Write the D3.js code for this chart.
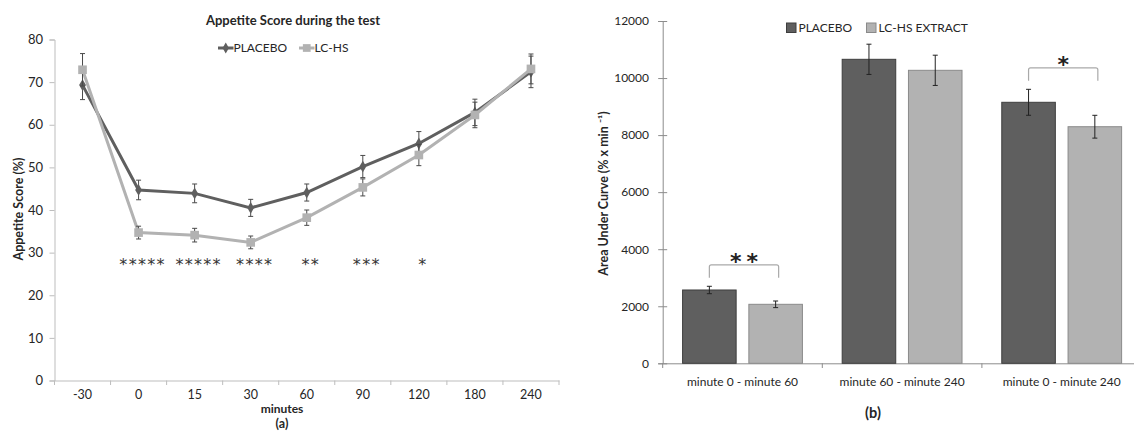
<!DOCTYPE html>
<html><head><meta charset="utf-8">
<script src="https://cdn.jsdelivr.net/npm/d3@7"></script>
<style>
body{margin:0;background:#fff;}
svg{display:block;font-family:Lato,"Open Sans",sans-serif;}
</style></head>
<body><svg id="c" width="1134" height="431"></svg>
<script>
// ---- Data: panel (a) ----
const minutes = ["-30","0","15","30","60","90","120","180","240"];
const placeboScore = [69.3, 44.7, 43.9, 40.5, 44.1, 50.2, 55.6, 62.9, 72.4];
const placeboErr   = [3.4, 2.3, 2.2, 2.0, 2.0, 2.6, 2.8, 3.1, 3.7];
const lchsScore    = [72.9, 34.7, 34.1, 32.4, 38.2, 45.3, 52.9, 62.3, 73.1];
const lchsErr      = [3.8, 1.5, 1.6, 1.5, 1.8, 2.0, 2.5, 3.0, 3.5];
const sigStars     = ["*****","*****","****","**","***","*"];
const sigAt        = ["0","15","30","60","90","120"];
const yTicksA      = [0,10,20,30,40,50,60,70,80];

// ---- Data: panel (b) ----
const periods   = ["minute 0 - minute 60","minute 60 - minute 240","minute 0 - minute 240"];
const groups    = ["PLACEBO","LC-HS EXTRACT"];
const aucPlacebo = [2570, 10657, 9150];
const aucPlaceboErr = [130, 530, 455];
const aucLchs    = [2068, 10271, 8294];
const aucLchsErr = [116, 530, 400];
const bracketLabels = ["**", "", "*"];
const yTicksB   = [0,2000,4000,6000,8000,10000,12000];

const DARK = "#5f5f5f", LIGHT = "#b2b2b2", TXT = "#262626";
const AXIS_A = "#bdbdbd", AXIS_B = "#8c8c8c";
const svg = d3.select("#c");

// ================= Panel (a) =================
const xA = d3.scaleBand().domain(minutes).range([54.5, 559]).padding(0);
const yA = d3.scaleLinear().domain([0,80]).range([380.5, 39.5]);
const gA = svg.append("g");

const yAxA = gA.append("g").attr("transform","translate(54.5,0)")
  .call(d3.axisLeft(yA).tickValues(yTicksA).tickSize(5).tickPadding(6.5));
yAxA.selectAll("path,line").attr("stroke",AXIS_A);
yAxA.selectAll("text").attr("font-size",13).attr("fill",TXT).attr("font-family","Lato,sans-serif");

const xAxA = gA.append("g").attr("transform","translate(0,380.5)")
  .call(d3.axisBottom(xA).tickSize(0).tickPadding(9.5));
xAxA.select("path").attr("stroke",AXIS_A);
xAxA.selectAll("text").attr("font-size",12.5).attr("fill",TXT).attr("font-family","Lato,sans-serif");
const bounds = minutes.map(m=>xA(m)).concat([xA.range()[1]]);
gA.selectAll(".bt").data(bounds).join("line")
  .attr("x1",d=>d).attr("x2",d=>d).attr("y1",380.5).attr("y2",385).attr("stroke",AXIS_A);

const cx = m => xA(m) + xA.bandwidth()/2;

function drawSeries(vals, errs, color, marker){
  const pts = minutes.map((m,i)=>({m, v:vals[i], e:errs[i]}));
  gA.append("path").datum(pts)
    .attr("fill","none").attr("stroke",color).attr("stroke-width",3)
    .attr("d", d3.line().x(d=>cx(d.m)).y(d=>yA(d.v)));
  const eb = gA.append("g").attr("stroke","#4a4a4a").attr("stroke-width",1);
  pts.forEach(d=>{
    const x=cx(d.m);
    eb.append("line").attr("x1",x).attr("x2",x).attr("y1",yA(d.v+d.e)).attr("y2",yA(d.v-d.e));
    eb.append("line").attr("x1",x-2.5).attr("x2",x+2.5).attr("y1",yA(d.v+d.e)).attr("y2",yA(d.v+d.e));
    eb.append("line").attr("x1",x-2.5).attr("x2",x+2.5).attr("y1",yA(d.v-d.e)).attr("y2",yA(d.v-d.e));
  });
  gA.selectAll(null).data(pts).join("path")
    .attr("transform",d=>`translate(${cx(d.m)},${yA(d.v)})`)
    .attr("d", d3.symbol().type(marker).size(marker===d3.symbolSquare?75:40)())
    .attr("fill",color);
}
drawSeries(placeboScore, placeboErr, DARK, d3.symbolDiamond);
drawSeries(lchsScore, lchsErr, LIGHT, d3.symbolSquare);

// significance stars
gA.selectAll(".st").data(sigAt.map((m,i)=>({m,s:sigStars[i]}))).join("text")
  .attr("x",d=>cx(d.m)+4).attr("y",270)
  .attr("text-anchor","middle").attr("font-size",16).attr("fill","#333")
  .attr("font-family","'DejaVu Sans',sans-serif")
  .attr("letter-spacing",1.3).text(d=>d.s);

// title & legend
gA.append("text").attr("x",293).attr("y",24.5).attr("text-anchor","middle")
  .attr("font-size",13).attr("font-weight","bold").attr("fill",TXT).text("Appetite Score during the test");
const legA = [{n:"PLACEBO",c:DARK,t:d3.symbolDiamond,x:218},{n:"LC-HS",c:LIGHT,t:d3.symbolSquare,x:299}];
const legY = 48;
legA.forEach(l=>{
  gA.append("line").attr("x1",l.x).attr("x2",l.x+15.5).attr("y1",legY).attr("y2",legY).attr("stroke",l.c).attr("stroke-width",3);
  gA.append("path").attr("transform",`translate(${l.x+7.75},${legY})`)
    .attr("d",d3.symbol().type(l.t).size(l.t===d3.symbolSquare?60:35)()).attr("fill",l.c);
  gA.append("text").attr("x",l.x+15.5).attr("y",legY+4.3).attr("font-size",12).attr("fill",TXT).text(l.n);
});
gA.append("text").attr("transform","translate(22.5,209) rotate(-90)").attr("text-anchor","middle")
  .attr("font-size",12.5).attr("font-weight","bold").attr("fill",TXT).text("Appetite Score (%)");
gA.append("text").attr("x",282).attr("y",413.3).attr("text-anchor","middle")
  .attr("font-size",12).attr("font-weight","bold").attr("fill",TXT).text("minutes");
gA.append("text").attr("x",282).attr("y",428.3).attr("text-anchor","middle")
  .attr("font-size",12.5).attr("font-weight","bold").attr("fill",TXT).text("(a)");

// ================= Panel (b) =================
const xB = d3.scaleBand().domain(periods).range([662.7, 1141.5]).padding(0);
const x1 = d3.scaleBand().domain(groups).range([0, xB.bandwidth()]).paddingInner(0.192).paddingOuter(0.3);
const yB = d3.scaleLinear().domain([0,12000]).range([363.3, 21]);
const gB = svg.append("g");

const yAxB = gB.append("g").attr("transform","translate(662.7,0)")
  .call(d3.axisLeft(yB).tickValues(yTicksB).tickSizeOuter(0).tickSize(4.5).tickPadding(9.2).tickFormat(d3.format("d")));
yAxB.selectAll("path").attr("stroke",AXIS_B);
yAxB.selectAll(".tick line").attr("x2",4.5).attr("x1",-4.5).attr("stroke",AXIS_B);
yAxB.selectAll("text").attr("font-size",12).attr("fill",TXT).attr("font-family","Lato,sans-serif");

const xAxB = gB.append("g").attr("transform","translate(0,363.3)")
  .call(d3.axisBottom(xB).tickSize(0).tickPadding(14));
xAxB.select("path").attr("stroke",AXIS_B);
xAxB.selectAll("text").attr("font-size",12).attr("fill",TXT).attr("font-family","Lato,sans-serif");
const boundsB = periods.map(p=>xB(p));
gB.selectAll(".bt").data(boundsB).join("line")
  .attr("x1",d=>d).attr("x2",d=>d).attr("y1",363.3).attr("y2",368).attr("stroke",AXIS_B);

const barData = [];
periods.forEach((p,i)=>{
  barData.push({p, g:groups[0], v:aucPlacebo[i], e:aucPlaceboErr[i], c:DARK, s:"#3e3e3e"});
  barData.push({p, g:groups[1], v:aucLchs[i], e:aucLchsErr[i], c:LIGHT, s:"#8a8a8a"});
});
gB.selectAll(".bar").data(barData).join("rect")
  .attr("x",d=>xB(d.p)+x1(d.g)).attr("width",x1.bandwidth())
  .attr("y",d=>yB(d.v)).attr("height",d=>yB(0)-yB(d.v))
  .attr("fill",d=>d.c).attr("stroke",d=>d.s).attr("stroke-width",1);
const ebB = gB.append("g").attr("stroke","#222").attr("stroke-width",1);
barData.forEach(d=>{
  const x = xB(d.p)+x1(d.g)+x1.bandwidth()/2;
  ebB.append("line").attr("x1",x).attr("x2",x).attr("y1",yB(d.v+d.e)).attr("y2",yB(d.v-d.e));
  ebB.append("line").attr("x1",x-2.5).attr("x2",x+2.5).attr("y1",yB(d.v+d.e)).attr("y2",yB(d.v+d.e));
  ebB.append("line").attr("x1",x-2.5).attr("x2",x+2.5).attr("y1",yB(d.v-d.e)).attr("y2",yB(d.v-d.e));
});

// significance brackets
periods.forEach((p,i)=>{
  if(!bracketLabels[i]) return;
  const xa = xB(p)+x1(groups[0])+x1.bandwidth()/2;
  const xb = xB(p)+x1(groups[1])+x1.bandwidth()/2 + 3;
  const top = Math.max(aucPlacebo[i]+aucPlaceboErr[i], aucLchs[i]+aucLchsErr[i]);
  const yTop = yB(top) - 21.5, yBot = yB(top) - 8.5;
  gB.append("path").attr("d",`M${xa},${yBot}V${yTop+2}Q${xa},${yTop} ${xa+2},${yTop}H${xb-2}Q${xb},${yTop} ${xb},${yTop+2}V${yBot}`)
    .attr("fill","none").attr("stroke","#a9a9a9").attr("stroke-width",1.2);
  gB.append("text").attr("x",(xa+xb)/2 + 2.4).attr("y",yTop+4)
    .attr("text-anchor","middle").attr("font-size",22).attr("font-weight","bold")
    .attr("font-family","'DejaVu Sans',sans-serif").attr("fill","#222").attr("letter-spacing",4.8)
    .text(bracketLabels[i]);
});

// legend (b)
const legB = [{n:groups[0],c:DARK,s:"#3e3e3e",x:786.5},{n:groups[1],c:LIGHT,s:"#8a8a8a",x:866.5}];
legB.forEach(l=>{
  gB.append("rect").attr("x",l.x).attr("y",23).attr("width",9.5).attr("height",9.5).attr("fill",l.c).attr("stroke",l.s);
  gB.append("text").attr("x",l.x+12).attr("y",32.3).attr("font-size",12).attr("fill",TXT).text(l.n);
});

gB.append("text").attr("transform","translate(607.5,193.5) rotate(-90)").attr("text-anchor","middle")
  .attr("font-size",12.5).attr("font-weight","bold").attr("fill",TXT).text("Area Under Curve (% x min \u207B\u00B9)");
gB.append("text").attr("x",873).attr("y",418).attr("text-anchor","middle")
  .attr("font-size",14.5).attr("font-weight","bold").attr("fill",TXT).text("(b)");
</script></body></html>
